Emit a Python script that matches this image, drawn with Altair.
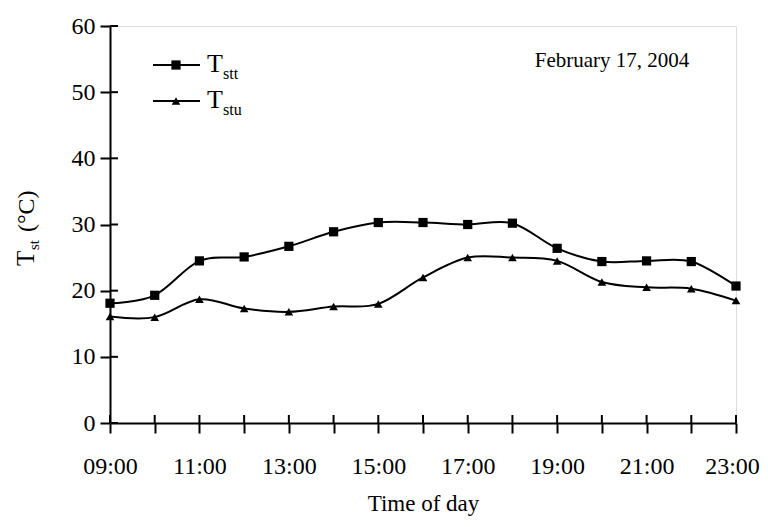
import altair as alt
import pandas as pd

hours = [9, 10, 11, 12, 13, 14, 15, 16, 17, 18, 19, 20, 21, 22, 23]
tstt = [18.1, 19.3, 24.5, 25.1, 26.7, 28.9, 30.3, 30.3, 30.0, 30.2, 26.4, 24.4, 24.5, 24.4, 20.7]
tstu = [16.1, 16.0, 18.7, 17.3, 16.8, 17.6, 18.0, 22.0, 25.0, 25.0, 24.5, 21.3, 20.5, 20.3, 18.5]
y_ticks = [0, 10, 20, 30, 40, 50, 60]
date_label = "February 17, 2004"

FONT = "Liberation Serif"
W, H = 626, 397

df = pd.DataFrame({"hour": hours * 2,
                   "temp": tstt + tstu,
                   "series": ["Tstt"] * len(hours) + ["Tstu"] * len(hours)})
xs = alt.Scale(domain=[9, 23], nice=False, zero=False)
ys = alt.Scale(domain=[0, 60], nice=False)

x_enc = alt.X("hour:Q", scale=xs, axis=alt.Axis(
    values=hours,
    labelExpr="datum.value % 2 == 1 ? (datum.value < 10 ? '0' : '') + datum.value + ':00' : ''",
    labelFlush=False, labelOverlap=False,
    labelOffset={"condition": {"test": "datum.value == 23", "value": -4}, "value": 0},
    tickSize=10, tickWidth=2, tickColor="black", domainColor="black", domainWidth=2,
    labelFont=FONT, labelFontSize=24, labelColor="black", labelPadding=21,
    title="Time of day", titleFont=FONT, titleFontSize=23, titleFontWeight="normal",
    titleColor="black", titlePadding=14, grid=False))
y_enc = alt.Y("temp:Q", scale=ys, axis=alt.Axis(
    values=y_ticks, tickSize=10, tickWidth=2, tickColor="black", domainColor="black",
    domainWidth=2, labelFont=FONT, labelFontSize=24, labelColor="black", labelPadding=5,
    title=None, grid=False))

base = alt.Chart(df)
lines = base.mark_line(interpolate="cardinal", color="black", strokeWidth=2).encode(
    x=x_enc, y=y_enc, detail="series:N")
sq = base.transform_filter("datum.series == 'Tstt'").mark_point(
    shape="square", filled=True, color="black", opacity=1, size=85).encode(x="hour:Q", y="temp:Q")
tri = base.transform_filter("datum.series == 'Tstu'").mark_point(
    shape="triangle-up", filled=True, color="black", opacity=1, size=75).encode(x="hour:Q", y="temp:Q")

xt = alt.Chart(pd.DataFrame({"hour": hours})).mark_rule(color="black", strokeWidth=2).encode(
    x="hour:Q", y=alt.value(H), y2=alt.value(H - 8))
yt = alt.Chart(pd.DataFrame({"temp": y_ticks})).mark_rule(color="black", strokeWidth=2).encode(
    y="temp:Q", x=alt.value(0), x2=alt.value(8))

one = pd.DataFrame({"k": [0]})


def txt(t, x, y, size, angle=0, align="left", baseline="alphabetic"):
    kw = dict(font=FONT, fontSize=size, color="#000000", fill="#000000",
              align=align, baseline=baseline)
    if angle:
        kw["angle"] = angle
    return alt.Chart(one).mark_text(**kw).encode(
        x=alt.value(x), y=alt.value(y), text=alt.value(t))


def leg_line(y):
    return alt.Chart(one).mark_rule(color="black", strokeWidth=2).encode(
        x=alt.value(43), x2=alt.value(90), y=alt.value(y))


leg = [
    leg_line(39),
    alt.Chart(one).mark_point(shape="square", filled=True, color="black", opacity=1, size=85).encode(
        x=alt.value(66), y=alt.value(39)),
    txt("T", 97, 46, 26), txt("stt", 113, 53, 16),
    leg_line(75),
    alt.Chart(one).mark_point(shape="triangle-up", filled=True, color="black", opacity=1, size=75).encode(
        x=alt.value(66), y=alt.value(75)),
    txt("T", 97, 82, 26), txt("stu", 113, 89, 16),
    txt(date_label, 502, 41, 21, align="center"),
    # y-axis title
    txt("T", -76, 240, 25, angle=270), txt("st", -71, 224, 15, angle=270),
    txt("(°C)", -76, 206, 24, angle=270),
]

chart = alt.layer(lines, sq, tri, xt, yt, *leg).properties(
    width=W, height=H,
    autosize=alt.AutoSizeParams(type="none"),
    padding={"left": 102, "top": 18, "right": 24, "bottom": 96},
).configure_view(stroke="black", strokeWidth=2).configure(background="white")

chart.save("out.html", embed_options={"renderer": "svg", "actions": False})
